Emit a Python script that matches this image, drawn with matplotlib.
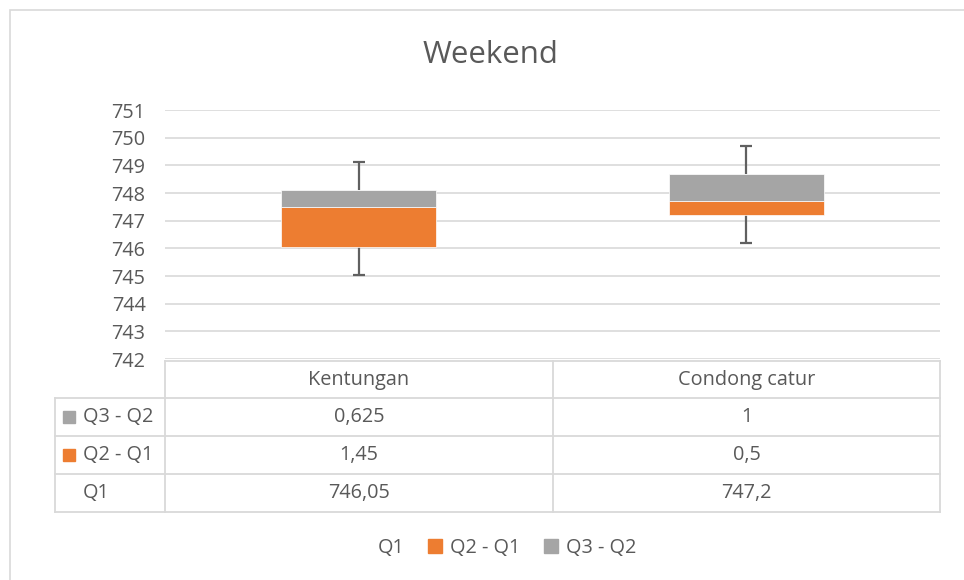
import matplotlib.pyplot as plt
from matplotlib.patches import Patch, Rectangle
from matplotlib.lines import Line2D

plt.rcParams['font.family'] = ['Open Sans', 'DejaVu Sans']

categories = ['Kentungan', 'Condong catur']
q1 = [746.05, 747.2]
q2_q1 = [1.45, 0.5]
q3_q2 = [0.625, 1]
whisk_low = [1, 1]
whisk_high = [1, 1]

orange = '#ED7D31'
gray = '#A5A5A5'
txt = '#595959'
grid = '#D9D9D9'

W, H = 964, 580
fig = plt.figure(figsize=(W / 100, H / 100), dpi=100)


def fx(px):
    return px / W


def fy(py):
    return 1 - py / H


# outer chart border
fig.patches.append(Rectangle((fx(10), fy(585)), fx(970) - fx(10), fy(10) - fy(585),
                             transform=fig.transFigure, fill=False, edgecolor=grid, lw=1.2))

ax = fig.add_axes([fx(165), fy(359), fx(940) - fx(165), fy(110) - fy(359)])
xs = list(range(len(categories)))
q2 = [a + b for a, b in zip(q1, q2_q1)]
q3 = [a + b for a, b in zip(q2, q3_q2)]

ax.bar(xs, q1, width=0.4, color='none')
ax.bar(xs, q2_q1, bottom=q1, width=0.4, color=orange, edgecolor='white', lw=0.5, zorder=3)
ax.bar(xs, q3_q2, bottom=q2, width=0.4, color=gray, edgecolor='white', lw=0.5, zorder=3)

# whiskers
lo = [a - b for a, b in zip(q1, whisk_low)]
hi = [a + b for a, b in zip(q3, whisk_high)]
wc = '#606060'
ax.vlines(xs, lo, q1, color=wc, lw=1.6, zorder=2)
ax.vlines(xs, q3, hi, color=wc, lw=1.6, zorder=2)
cw = 0.016
ax.hlines(lo, [x - cw for x in xs], [x + cw for x in xs], color=wc, lw=1.6, zorder=2)
ax.hlines(hi, [x - cw for x in xs], [x + cw for x in xs], color=wc, lw=1.6, zorder=2)

ax.set_xlim(-0.5, len(xs) - 0.5)
ax.set_ylim(742, 751)
ax.set_yticks(range(742, 752))
ax.yaxis.grid(True, color=grid, lw=1.2)
ax.set_axisbelow(True)
ax.set_xticks([])
for s in ax.spines.values():
    s.set_visible(False)
ax.tick_params(axis='y', length=0, labelsize=14.3, colors=txt, pad=14)

fig.text(fx(490), fy(55), 'Weekend', ha='center', va='center', fontsize=22.5, color=txt)

# data table
rows_y = [361, 398, 436, 474, 512]
cols_x = [55, 165, 553, 940]
lk = dict(color=grid, lw=1.3, transform=fig.transFigure)
fig.add_artist(Line2D([fx(165), fx(940)], [fy(361)] * 2, **lk))
for y in rows_y[1:]:
    fig.add_artist(Line2D([fx(55), fx(940)], [fy(y)] * 2, **lk))
fig.add_artist(Line2D([fx(55)] * 2, [fy(398), fy(512)], **lk))
for x in cols_x[1:]:
    fig.add_artist(Line2D([fx(x)] * 2, [fy(361), fy(512)], **lk))


def fmt(v):
    return f'{v:g}'.replace('.', ',')


rows = [('Q3 - Q2', gray, q3_q2), ('Q2 - Q1', orange, q2_q1), ('Q1', None, q1)]
for j, c in enumerate(categories):
    cx = (cols_x[j + 1] + cols_x[j + 2]) / 2
    fig.text(fx(cx), fy((rows_y[0] + rows_y[1]) / 2), c, ha='center', va='center',
             fontsize=14.3, color=txt)
for i, (name, col, vals) in enumerate(rows):
    cy = (rows_y[i + 1] + rows_y[i + 2]) / 2
    if col:
        fig.patches.append(Rectangle((fx(63), fy(cy + 6)), fx(12), fy(0) - fy(12),
                                     transform=fig.transFigure, color=col))
    fig.text(fx(83), fy(cy), name, ha='left', va='center', fontsize=14.3, color=txt)
    for j, v in enumerate(vals):
        cx = (cols_x[j + 1] + cols_x[j + 2]) / 2
        fig.text(fx(cx), fy(cy), fmt(v), ha='center', va='center', fontsize=14.3, color=txt)

handles = [Patch(facecolor='none', edgecolor='none'), Patch(color=orange), Patch(color=gray)]
fig.legend(handles, ['Q1', 'Q2 - Q1', 'Q3 - Q2'], loc='center', ncol=3,
           bbox_to_anchor=(fx(496), fy(548)), frameon=False, fontsize=14.3,
           labelcolor=txt, handlelength=0.7, handleheight=0.7, handletextpad=0.4,
           columnspacing=1.2)

fig.savefig('out.png', dpi=100)
